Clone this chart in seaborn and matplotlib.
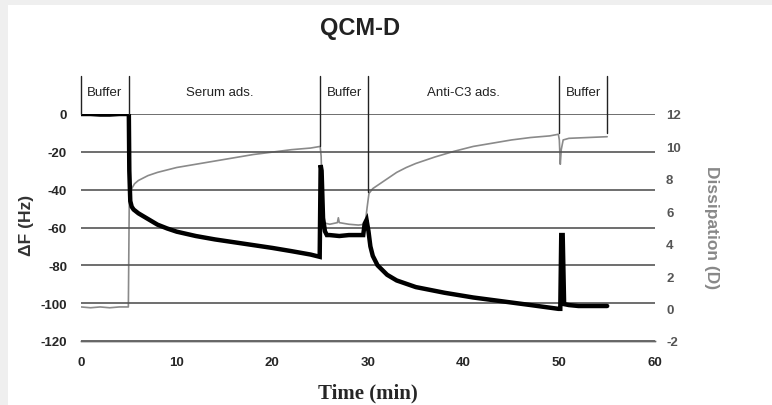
import matplotlib
matplotlib.use("Agg")
import seaborn as sns
from matplotlib import pyplot as plt
from matplotlib.patches import Rectangle

# frequency shift (black, left axis)
freq_t = [0, 1, 2, 3, 4, 5.0, 5.05, 5.1, 5.15, 5.3, 5.5, 6, 7, 8, 9, 10, 12, 14, 16, 18,
          20, 22, 24, 24.95, 25.05, 25.15, 25.3, 25.5, 25.7, 26, 27, 28, 29, 29.5, 29.65,
          29.85, 30.05, 30.25, 30.5, 31, 32, 33, 35, 38, 41, 44, 47, 49.9, 50.1, 50.2,
          50.35, 50.5, 51, 52, 53, 54, 55]
freq_v = [0, 0, -0.3, -0.3, 0, 0, -30, -38, -46, -49, -50.5, -52.5, -55.5, -58.5, -60.5,
          -62.2, -64.5, -66.3, -67.8, -69.3, -70.8, -72.5, -74.3, -75.5, -27, -30, -55,
          -62, -64, -64, -64.5, -64, -64, -64, -58, -56, -62, -70, -75, -80, -85, -88,
          -91.5, -94.5, -97, -99, -101, -103, -103, -64, -64, -100.5, -101, -101.5, -101.5,
          -101.5, -101.5]

# dissipation (gray, right axis)
diss_t = [0, 1, 2, 3, 4, 4.95, 5.05, 5.3, 5.6, 6, 7, 8, 10, 12, 14, 16, 18, 20, 22, 24,
          25.0, 25.1, 25.3, 26, 26.8, 26.9, 27.0, 28, 29, 29.7, 29.9, 30.1, 30.5, 31, 32,
          33, 34, 35, 37, 39, 41, 43, 45, 47, 49, 49.9, 50.0, 50.1, 50.2, 50.4, 51, 53, 55]
diss_v = [0.1, 0.05, 0.1, 0.05, 0.1, 0.1, 7.0, 7.4, 7.7, 7.9, 8.2, 8.4, 8.7, 8.9, 9.1,
          9.3, 9.5, 9.65, 9.8, 9.9, 10.0, 9.4, 5.3, 5.2, 5.3, 5.6, 5.3, 5.2, 5.15, 5.2,
          6.2, 7.1, 7.4, 7.6, 8.0, 8.4, 8.7, 8.95, 9.35, 9.7, 10.0, 10.2, 10.4, 10.55,
          10.65, 10.75, 10.4, 8.9, 9.8, 10.4, 10.5, 10.55, 10.6]

phase_bounds = [0, 5, 25, 30, 50, 55]
phase_names = ["Buffer", "Serum ads.", "Buffer", "Anti-C3 ads.", "Buffer"]
divider_bottom = [0, 0, -17, -41, -10, -10]

f_ticks = [0, -20, -40, -60, -80, -100, -120]
d_ticks = [12, 10, 8, 6, 4, 2, 0, -2]
t_ticks = [0, 10, 20, 30, 40, 50, 60]

sns.set_style("white")
plt.rcParams['font.family'] = ['Liberation Sans', 'DejaVu Sans']
plt.rcParams['axes.unicode_minus'] = False

fig = plt.figure(figsize=(7.72, 4.06), dpi=100)
fig.add_artist(Rectangle((0, 0), 8 / 772, 1, transform=fig.transFigure,
                         color="#efefef", lw=0, zorder=0))
fig.add_artist(Rectangle((0, 1 - 6 / 406), 1, 6 / 406, transform=fig.transFigure,
                         color="#efefef", lw=0, zorder=0))

ax = fig.add_axes([81 / 772, 1 - 342 / 406, (655 - 81) / 772, (342 - 115) / 406])
ax2 = ax.twinx()
ax.set_zorder(ax2.get_zorder() + 1)
ax.patch.set_visible(False)

sns.lineplot(x=diss_t, y=diss_v, ax=ax2, color="#8a8a8a", linewidth=1.2,
             sort=False, estimator=None)
sns.lineplot(x=freq_t, y=freq_v, ax=ax, color="black", linewidth=3.2,
             sort=False, estimator=None, solid_joinstyle="miter")

ax.set_xlim(0, 60)
ax.set_ylim(-120, 0)
ax2.set_ylim(-2, 12)
ax.set_xticks(t_ticks)
ax.set_yticks(f_ticks)
ax2.set_yticks(d_ticks)

ax.grid(axis="y", color="#555555", linewidth=1.2)
ax.grid(axis="x", visible=False)
ax2.grid(False)

for a in (ax, ax2):
    for s in ("top", "left", "right"):
        a.spines[s].set_visible(False)
    a.spines["bottom"].set_color("#666666")
    a.spines["bottom"].set_linewidth(1.0)

ax.tick_params(axis="x", length=3, width=1, color="#666666", pad=8, labelsize=9.5)
ax.tick_params(axis="y", length=0, pad=10, labelsize=9.5)
ax2.tick_params(axis="y", length=0, pad=8, labelsize=9.5, labelcolor="#555555")
for lab in ax.get_xticklabels() + ax.get_yticklabels() + ax2.get_yticklabels():
    lab.set_fontweight("bold")
ax.set_xlabel("")
ax.set_ylabel("")
ax2.set_ylabel("")

# phase dividers and labels
for t, yb in zip(phase_bounds, divider_bottom):
    ax.plot([t, t], [20.2, yb], color="#222222", linewidth=1.0, clip_on=False)
for i, name in enumerate(phase_names):
    xc = (phase_bounds[i] + phase_bounds[i + 1]) / 2
    if name == "Serum ads.":
        xc -= 0.5
    ax.text(xc, 11.7, name, ha="center", va="center", fontsize=9.5, color="#222222",
            clip_on=False)

fig.text(360 / 772, 1 - 28 / 406, "QCM-D", ha="center", va="center",
         fontsize=17, fontweight="bold", color="#222222")
fig.text(26 / 772, 1 - 225 / 406, "ΔF (Hz)", rotation=90, ha="center", va="center",
         fontsize=12.5, fontweight="bold", color="#333333")
fig.text(712 / 772, 1 - 228 / 406, "Dissipation (D)", rotation=270, ha="center",
         va="center", fontsize=12.5, fontweight="bold", color="#888888")
fig.text(368 / 772, 1 - 393 / 406, "Time (min)", ha="center", va="center",
         fontsize=15, fontweight="bold", family=["Liberation Serif", "DejaVu Serif"])

fig.savefig("out.png", dpi=100)
